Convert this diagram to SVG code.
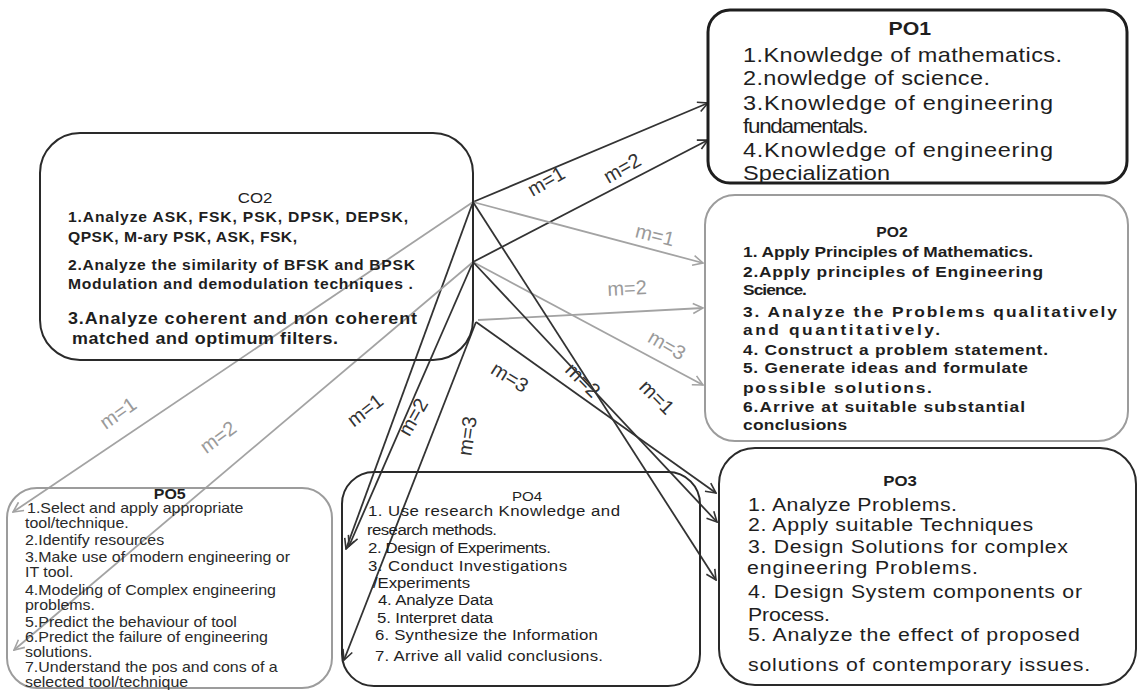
<svg xmlns="http://www.w3.org/2000/svg" width="1140" height="691" viewBox="0 0 1140 691">
  <defs>
    <style>
      .box{fill:none;stroke-linejoin:round}
      .dark{stroke:#2a2a2a;stroke-width:2}
      .thick{stroke:#1e1e1e;stroke-width:3}
      .grey{stroke:#9c9c9c;stroke-width:2}
      text{font-family:"Liberation Sans",Arial,sans-serif;fill:#1e1e1e}
      .b{font-weight:bold}
      .mid{text-anchor:middle}
      .t1{font-size:21px}
      .t2{font-size:15.5px;font-weight:bold}
      .t3{font-size:19px}
      .t4{font-size:15px}
      .t5{font-size:14px;fill:#2a2a2a}
      .tc{font-size:14px;font-weight:bold}
      .tc3{font-size:16px;font-weight:bold}
      .conn line{stroke-width:1.8;fill:none}
      .k{stroke:#333333}
      .g{stroke:#a3a3a3}
      .lbl{font-size:20px;text-anchor:middle}
      .lk{fill:#333333}
      .lg{fill:#9a9a9a}
    </style>
    <marker id="ak" viewBox="0 0 12 12" refX="11" refY="6" markerWidth="12" markerHeight="12" markerUnits="userSpaceOnUse" orient="auto">
      <path d="M1,1 L11,6 L1,11" fill="none" stroke="#333333" stroke-width="1.6"/>
    </marker>
    <marker id="ag" viewBox="0 0 12 12" refX="11" refY="6" markerWidth="12" markerHeight="12" markerUnits="userSpaceOnUse" orient="auto">
      <path d="M1,1 L11,6 L1,11" fill="none" stroke="#a3a3a3" stroke-width="1.6"/>
    </marker>
  </defs>

  <rect width="1140" height="691" fill="#ffffff"/>

  <!-- connectors from CO2 to the programme outcomes -->
  <g id="connectors" class="conn">
    <!-- to PO1 -->
    <line class="k" x1="473" y1="202" x2="708" y2="103" marker-end="url(#ak)"/>
    <line class="k" x1="473" y1="262" x2="708" y2="140" marker-end="url(#ak)"/>
    <!-- to PO2 -->
    <line class="g" x1="473" y1="202" x2="703" y2="263" marker-end="url(#ag)"/>
    <line class="g" x1="478" y1="320" x2="703" y2="308" marker-end="url(#ag)"/>
    <line class="g" x1="473" y1="262" x2="703" y2="385" marker-end="url(#ag)"/>
    <!-- to PO3 -->
    <line class="k" x1="473" y1="202" x2="716" y2="580" marker-end="url(#ak)"/>
    <line class="k" x1="473" y1="262" x2="717" y2="522" marker-end="url(#ak)"/>
    <line class="k" x1="476" y1="322" x2="716" y2="493" marker-end="url(#ak)"/>
    <!-- to PO4 -->
    <line class="k" x1="473" y1="202" x2="346" y2="549" marker-end="url(#ak)"/>
    <line class="k" x1="473" y1="262" x2="349" y2="546" marker-end="url(#ak)"/>
    <line class="k" x1="476" y1="322" x2="344" y2="660" marker-end="url(#ak)"/>
    <!-- to PO5 -->
    <line class="g" x1="473" y1="202" x2="13" y2="512" marker-end="url(#ag)"/>
    <line class="g" x1="473" y1="262" x2="14" y2="650" marker-end="url(#ag)"/>

    <!-- mapping strengths -->
    <text class="lbl lk" x="546" y="181" dy=".35em" transform="rotate(-30 546 181)">m=1</text>
    <text class="lbl lk" x="622" y="168" dy=".35em" transform="rotate(-30 622 168)">m=2</text>
    <text class="lbl lg" x="655" y="235" dy=".35em" transform="rotate(14 655 235)">m=1</text>
    <text class="lbl lg" x="627" y="288" dy=".35em" transform="rotate(-3 627 288)">m=2</text>
    <text class="lbl lg" x="667" y="345" dy=".35em" transform="rotate(30 667 345)">m=3</text>
    <text class="lbl lk" x="510" y="377" dy=".35em" transform="rotate(32 510 377)">m=3</text>
    <text class="lbl lk" x="583" y="380" dy=".35em" transform="rotate(45 583 380)">m=2</text>
    <text class="lbl lk" x="657" y="397" dy=".35em" transform="rotate(45 657 397)">m=1</text>
    <text class="lbl lk" x="365" y="410" dy=".35em" transform="rotate(-38 365 410)">m=1</text>
    <text class="lbl lk" x="413" y="417" dy=".35em" transform="rotate(-60 413 417)">m=2</text>
    <text class="lbl lk" x="467" y="436" dy=".35em" transform="rotate(-82 467 436)">m=3</text>
    <text class="lbl lg" x="118" y="413" dy=".35em" transform="rotate(-35 118 413)">m=1</text>
    <text class="lbl lg" x="218" y="437" dy=".35em" transform="rotate(-36 218 437)">m=2</text>
  </g>

  <!-- course outcome -->
  <g id="CO2">
    <rect class="box dark" x="40" y="133" width="433" height="227" rx="40"/>
    <!-- text block widened slightly around its left margin -->
    <g transform="matrix(1.12 0 0 1 -8.16 0)">
      <text class="mid" x="235" y="203" font-size="15">CO2</text>
      <text class="tc" x="68" y="222" textLength="303.6">1.Analyze ASK, FSK, PSK, DPSK, DEPSK,</text>
      <text class="tc" x="68" y="242" textLength="204.5">QPSK, M-ary PSK, ASK, FSK,</text>
      <text class="tc" x="68" y="270" textLength="309.8">2.Analyze the similarity of BFSK and BPSK</text>
      <text class="tc" x="68" y="289" textLength="308">Modulation and demodulation techniques .</text>
      <text class="tc3" x="68" y="324" textLength="311.6">3.Analyze coherent and non coherent</text>
      <text class="tc3" x="71.6" y="344" textLength="237.5">matched and optimum filters.</text>
    </g>
  </g>

  <!-- programme outcomes -->
  <g id="PO1">
    <rect class="box thick" x="708" y="10" width="419" height="173" rx="22"/>
    <g transform="matrix(1.12 0 0 1 -89.16 0)">
      <text class="b mid" x="892" y="35" font-size="19">PO1</text>
      <text class="t1" x="743" y="62" textLength="284.8">1.Knowledge of mathematics.</text>
      <text class="t1" x="743" y="85" textLength="220.5">2.nowledge of science.</text>
      <text class="t1" x="743" y="110" textLength="276.8">3.Knowledge of engineering</text>
      <text class="t1" x="743" y="133" style="font-size:20px" textLength="112">fundamentals.</text>
      <text class="t1" x="743" y="157" textLength="276.8">4.Knowledge of engineering</text>
      <text class="t1" x="743" y="180" textLength="131.3">Specialization</text>
    </g>
  </g>

  <g id="PO2">
    <rect class="box grey" x="705" y="195" width="423" height="246" rx="30"/>
    <g transform="matrix(1.12 0 0 1 -89.16 0)">
      <text class="b mid" x="876" y="237" font-size="14">PO2</text>
      <text class="t2" x="743" y="257" textLength="258.9">1. Apply Principles of Mathematics.</text>
      <text class="t2" x="743" y="277" textLength="267.9">2.Apply principles of Engineering</text>
      <text class="t2" x="743" y="295" textLength="57.1">Science.</text>
      <text class="t2" x="743" y="317" textLength="333.9">3. Analyze the Problems qualitatively</text>
      <text class="t2" x="743" y="335" textLength="175.9">and quantitatively.</text>
      <text class="t2" x="743" y="355" textLength="272.3">4. Construct a problem statement.</text>
      <text class="t2" x="743" y="373" textLength="254.5">5. Generate ideas and formulate</text>
      <text class="t2" x="743" y="393" textLength="168.7">possible solutions.</text>
      <text class="t2" x="743" y="412" textLength="251.8">6.Arrive at suitable substantial</text>
      <text class="t2" x="743" y="430" textLength="92.9">conclusions</text>
    </g>
  </g>

  <g id="PO3">
    <rect class="box dark" x="719" y="448" width="417" height="237" rx="36"/>
    <g transform="matrix(1.12 0 0 1 -89.76 0)">
      <text class="b mid" x="883.7" y="486" font-size="15">PO3</text>
      <text class="t3" x="748" y="511" textLength="186.6">1. Analyze Problems.</text>
      <text class="t3" x="748" y="531" textLength="254.5">2. Apply suitable Techniques</text>
      <text class="t3" x="748" y="553" textLength="285.7">3. Design Solutions for complex</text>
      <text class="t3" x="747.1" y="574" textLength="206.2">engineering Problems.</text>
      <text class="t3" x="748" y="598" textLength="298.2">4. Design System components or</text>
      <text class="t3" x="748" y="621" textLength="73.2">Process.</text>
      <text class="t3" x="748" y="641" textLength="296.4">5. Analyze the effect of proposed</text>
      <text class="t3" x="748" y="671" textLength="305.4">solutions of contemporary issues.</text>
    </g>
  </g>

  <g id="PO4">
    <rect class="box dark" x="342" y="472" width="358" height="214" rx="32"/>
    <g transform="matrix(1.12 0 0 1 -44.16 0)">
      <text class="mid" x="510" y="501" font-size="13.5">PO4</text>
      <text class="t4" x="368" y="516" textLength="225">1. Use research Knowledge  and</text>
      <text class="t4" x="367.1" y="535" textLength="116.1">research methods.</text>
      <text class="t4" x="368" y="553" textLength="163.4">2. Design of Experiments.</text>
      <text class="t4" x="368" y="571" textLength="177.7">3. Conduct Investigations</text>
      <text class="t4" x="372.5" y="588" textLength="86.6">/Experiments</text>
      <text class="t4" x="376.9" y="605" textLength="102.7">4. Analyze Data</text>
      <text class="t4" x="376" y="623" textLength="103.6">5. Interpret data</text>
      <text class="t4" x="374.2" y="640" textLength="199.1">6. Synthesize  the Information</text>
      <text class="t4" x="374.2" y="661" textLength="203.6">7. Arrive all valid conclusions.</text>
    </g>
  </g>

  <g id="PO5">
    <rect class="box grey" x="7" y="488" width="325" height="200" rx="30"/>
    <g transform="matrix(1.14 0 0 1 -3.5 0)">
      <text class="b mid" x="152" y="499" font-size="14">PO5</text>
      <text class="t5" x="26.8" y="513">1.Select and apply appropriate</text>
      <text class="t5" x="25" y="528">tool/technique.</text>
      <text class="t5" x="25" y="545">2.Identify resources</text>
      <text class="t5" x="25" y="562">3.Make use of modern engineering or</text>
      <text class="t5" x="25" y="577">IT tool.</text>
      <text class="t5" x="25" y="595">4.Modeling of Complex engineering</text>
      <text class="t5" x="25" y="610">problems.</text>
      <text class="t5" x="25" y="627">5.Predict the behaviour of tool</text>
      <text class="t5" x="25" y="642">6.Predict the failure of  engineering</text>
      <text class="t5" x="25" y="657">solutions.</text>
      <text class="t5" x="25" y="672">7.Understand the pos and cons of a</text>
      <text class="t5" x="25" y="687">selected tool/technique</text>
    </g>
  </g>
</svg>
